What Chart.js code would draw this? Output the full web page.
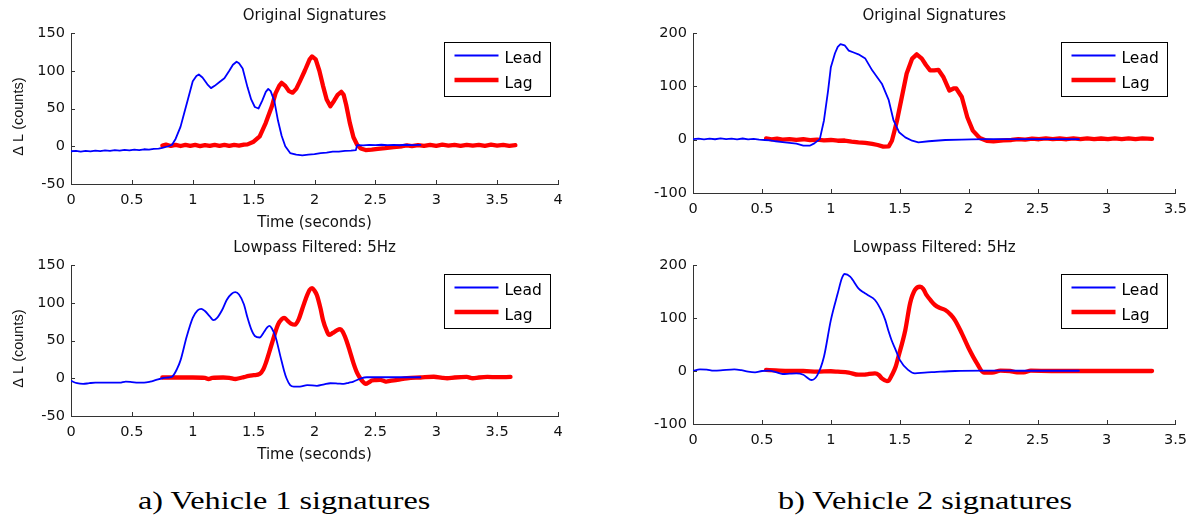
<!DOCTYPE html>
<html>
<head>
<meta charset="utf-8">
<title>Vehicle signatures</title>
<script src="https://cdn.jsdelivr.net/npm/chart.js@4.4.1/dist/chart.umd.min.js"></script>
<style>
  html, body { margin: 0; padding: 0; background: #fff; }
  body { width: 1195px; height: 517px; position: relative; overflow: hidden; }
  canvas { position: absolute; }
  .caption {
    position: absolute;
    font-family: "Liberation Serif", "Times New Roman", serif;
    font-size: 25px;
    line-height: 25px;
    color: #000;
    white-space: nowrap;
    transform: scaleX(1.29);
    transform-origin: 0 0;
  }
</style>
</head>
<body>
<canvas id="v1orig" width="600" height="240" style="left:0;top:0"></canvas>
<canvas id="v1filt" width="600" height="240" style="left:0;top:232px"></canvas>
<canvas id="v2orig" width="595" height="240" style="left:600px;top:0"></canvas>
<canvas id="v2filt" width="595" height="240" style="left:600px;top:232px"></canvas>
<div class="caption" style="left:138px;top:488px">a) Vehicle 1 signatures</div>
<div class="caption" style="left:778px;top:488px">b) Vehicle 2 signatures</div>
<script>
// Series names and axis ticks
const seriesNames = ['Lead', 'Lag'];
const v1XTicks = [0, 0.5, 1, 1.5, 2, 2.5, 3, 3.5, 4];
const v1YTicks = [-50, 0, 50, 100, 150];
const v2XTicks = [0, 0.5, 1, 1.5, 2, 2.5, 3, 3.5];
const v2YTicks = [-100, 0, 100, 200];

// Vehicle 1, raw loop signatures: [time (s), delta L (counts)]
const v1OrigLead = [
  [0,-6.6],[0.04,-6],[0.08,-7],[0.12,-6.2],[0.16,-6.8],[0.2,-5.8],[0.24,-6.5],[0.28,-5.6],[0.32,-6.2],
  [0.36,-5.2],[0.4,-5.8],[0.44,-4.8],[0.48,-5.4],[0.52,-4.4],[0.56,-5],[0.6,-4],[0.64,-4.6],[0.68,-3.4],
  [0.72,-3.2],[0.75,-2],[0.8,0],[0.83,2],[0.86,10],[0.9,26],[0.93,44],[0.96,62],[1.0,86],[1.03,93],
  [1.05,95],[1.08,91],[1.12,82],[1.15,77],[1.18,80],[1.22,85],[1.26,90],[1.3,100],[1.33,108],[1.36,112],
  [1.38,110],[1.41,103],[1.45,78],[1.48,62],[1.51,52],[1.54,50],[1.57,60],[1.6,72],[1.62,76],[1.64,73],
  [1.67,60],[1.7,34],[1.73,14],[1.76,0],[1.8,-9],[1.85,-11],[1.9,-12],[1.95,-11],[2.0,-10.5],[2.05,-9],
  [2.1,-8.5],[2.15,-7],[2.2,-7],[2.25,-6],[2.3,-5.8],[2.34,-5],[2.35,1.5],[2.4,1.2],[2.45,1.8],[2.5,1.4],
  [2.55,2],[2.6,1.4],[2.65,1.9],[2.7,1.3],[2.75,2],[2.8,1.5],[2.87,1.8]
];
const v1OrigLag = [
  [0.75,1],[0.78,2.2],[0.82,0.4],[0.86,1.8],[0.9,0.3],[0.94,1.9],[0.98,0.5],[1.02,1.7],[1.06,0.2],
  [1.1,1.6],[1.14,0.4],[1.18,1.9],[1.22,0.6],[1.26,1.8],[1.3,0.4],[1.34,1.7],[1.38,0.8],[1.42,2.2],
  [1.45,2.5],[1.5,6],[1.55,13],[1.6,31],[1.65,53],[1.68,70],[1.71,80],[1.73,84],[1.76,80],[1.79,73],
  [1.82,71],[1.85,76],[1.88,86],[1.92,100],[1.96,115],[1.98,119],[2.01,115],[2.04,100],[2.07,80],
  [2.1,62],[2.13,53],[2.16,60],[2.19,68],[2.22,72],[2.24,68],[2.26,55],[2.29,31],[2.32,12],[2.35,2],
  [2.38,-3],[2.42,-5],[2.47,-4.5],[2.52,-3.5],[2.58,-2.5],[2.65,-1],[2.72,0],[2.76,1.2],[2.8,0.2],
  [2.85,1.6],[2.9,0.4],[2.95,1.8],[3.0,0.6],[3.05,2],[3.1,0.8],[3.15,1.7],[3.2,0.5],[3.25,1.9],
  [3.3,0.7],[3.35,1.8],[3.4,0.6],[3.45,2],[3.5,0.8],[3.55,1.8],[3.6,0.6],[3.65,1.4]
];

// Vehicle 1, 5 Hz lowpass filtered
const v1FiltLead = [
  [0,-3.5],[0.05,-6.6],[0.1,-7.5],[0.15,-6.5],[0.2,-5.8],[0.3,-5.8],[0.4,-5.8],[0.45,-4.4],[0.5,-5],
  [0.55,-5.8],[0.6,-5.8],[0.65,-4.5],[0.7,-2.2],[0.75,0],[0.8,1],[0.83,2],[0.87,12],[0.9,24],[0.95,55],
  [1.0,80],[1.04,90],[1.07,92],[1.1,89],[1.14,82],[1.17,77],[1.2,80],[1.24,90],[1.28,104],[1.32,112],
  [1.35,114],[1.38,111],[1.42,98],[1.45,80],[1.48,65],[1.51,56],[1.55,54],[1.58,60],[1.61,67],[1.63,69.5],
  [1.65,66],[1.68,55],[1.72,29],[1.75,10],[1.77,0],[1.8,-9],[1.83,-11],[1.88,-11],[1.94,-9],[2.02,-10],
  [2.08,-8],[2.13,-6.6],[2.19,-7],[2.24,-7.5],[2.28,-6],[2.32,-4.4],[2.37,-1],[2.43,1.3],[2.6,1.3],[2.87,1.3]
];
const v1FiltLag = [
  [0.75,1],[0.9,1],[1.0,1],[1.1,0.5],[1.13,-1],[1.16,0.5],[1.25,1],[1.3,0.5],[1.35,-1],[1.38,0],
  [1.42,1.5],[1.46,3],[1.5,4],[1.55,5.7],[1.58,12],[1.6,20],[1.65,46],[1.7,71],[1.73,78],[1.75,80],
  [1.78,76],[1.81,72],[1.84,71],[1.87,78],[1.9,92],[1.93,106],[1.96,117],[1.98,119.5],[2.0,116],[2.02,110],
  [2.05,92],[2.07,77],[2.1,63],[2.12,57.5],[2.15,60],[2.18,63],[2.21,65],[2.23,62],[2.26,51],[2.29,36],
  [2.32,20],[2.35,7],[2.375,0],[2.4,-5],[2.42,-7.5],[2.45,-5],[2.47,-3],[2.5,-2.5],[2.54,-2.2],[2.57,-3.5],
  [2.59,-4.4],[2.62,-3.5],[2.68,-2.2],[2.76,0],[2.87,1],[2.98,2],[3.05,0.5],[3.09,0],[3.15,1],[3.25,1.7],
  [3.3,0],[3.35,1],[3.42,1.7],[3.5,1.5],[3.61,1.7]
];

// Vehicle 2, raw loop signatures
const v2OrigLead = [
  [0,1],[0.04,2],[0.08,0.5],[0.12,1.8],[0.16,0.8],[0.2,2.5],[0.24,1.2],[0.28,1.8],[0.32,0.6],[0.36,2.2],
  [0.4,0.5],[0.44,1.5],[0.48,0.2],[0.52,-0.6],[0.56,-1.5],[0.6,-3],[0.65,-4.5],[0.7,-6],[0.75,-7.5],
  [0.8,-11],[0.85,-11],[0.88,-7],[0.92,1],[0.95,36],[0.98,92],[1.0,136],[1.03,162],[1.05,174],[1.07,179],
  [1.1,177],[1.13,167],[1.17,163],[1.2,160],[1.25,152],[1.3,130],[1.37,105],[1.42,74],[1.455,36],
  [1.495,14],[1.54,4.4],[1.59,-2],[1.635,-5],[1.71,-3],[1.83,-0.6],[1.95,0],[2.02,0.6],[2.14,1],
  [2.3,1],[2.5,1.2],[2.8,1]
];
const v2OrigLag = [
  [0.53,2.5],[0.57,0.5],[0.61,1.8],[0.65,0.2],[0.7,1],[0.75,-0.4],[0.8,0.8],[0.85,-0.8],[0.9,0.2],
  [0.95,-1.2],[1.0,-0.6],[1.05,-2],[1.1,-1.6],[1.15,-3.5],[1.2,-5],[1.25,-6],[1.3,-8],[1.34,-10],
  [1.38,-13],[1.42,-12.5],[1.443,-2],[1.46,15],[1.48,36],[1.515,80],[1.55,124],[1.59,152],[1.623,160],
  [1.66,152],[1.69,140],[1.72,130],[1.75,130],[1.78,131],[1.815,118],[1.86,92],[1.89,96],[1.91,96],
  [1.95,80],[1.99,42],[2.03,17],[2.08,3],[2.13,-2],[2.18,-3],[2.25,-1.5],[2.31,-0.6],[2.36,1.2],
  [2.41,0],[2.46,1.8],[2.51,0.8],[2.56,2.4],[2.61,1],[2.66,2.2],[2.71,0.8],[2.76,2.4],[2.81,1.2],
  [2.86,2.6],[2.91,1],[2.96,2.2],[3.01,0.9],[3.06,2.4],[3.11,1.1],[3.16,2.3],[3.21,0.9],[3.26,2.4],
  [3.33,1.6]
];

// Vehicle 2, 5 Hz lowpass filtered
const v2FiltLead = [
  [0,0],[0.05,3],[0.1,2.5],[0.15,0.6],[0.2,1],[0.3,3],[0.35,1.5],[0.4,-1.3],[0.45,-2.5],[0.5,0],
  [0.55,0.6],[0.6,-2],[0.65,-5.7],[0.7,-5],[0.75,-4.4],[0.8,-7],[0.82,-10.7],[0.86,-17],[0.9,-8.8],
  [0.95,27],[1.0,96],[1.05,146.5],[1.08,175],[1.1,183],[1.14,178],[1.2,156],[1.24,148],[1.27,143],
  [1.32,134],[1.37,112],[1.395,96],[1.42,74],[1.44,58.5],[1.47,40],[1.5,21],[1.56,2],[1.61,-4.4],
  [1.68,-3],[1.75,-2],[1.9,0],[2.11,0.6],[2.4,0.5],[2.8,0.5]
];
const v2FiltLag = [
  [0.53,2],[0.6,1],[0.7,0],[0.8,0],[0.9,-1.3],[1.0,-0.5],[1.05,-1.3],[1.13,-3],[1.2,-7],[1.24,-7],
  [1.27,-5.7],[1.32,-4.4],[1.35,-8],[1.37,-14],[1.407,-19],[1.42,-18],[1.443,-7.5],[1.47,8],[1.49,27],
  [1.54,77],[1.575,128],[1.61,153],[1.647,159],[1.67,155],[1.695,143],[1.725,133],[1.755,124.5],
  [1.79,119],[1.83,115],[1.87,106],[1.9,96],[1.95,71],[2.0,43],[2.06,14.5],[2.11,-3],[2.17,-3],
  [2.23,0.6],[2.3,0],[2.35,-2.5],[2.4,-2.5],[2.45,0.6],[2.6,0],[3.33,0]
];

Chart.defaults.font.family = '"DejaVu Sans", "Liberation Sans", sans-serif';
Chart.defaults.color = '#111';

const toPoints = arr => arr.map(([x, y]) => ({ x, y }));

// MATLAB-style tick marks pointing into the plot area
const inwardTicks = {
  id: 'inwardTicks',
  afterDatasetsDraw(chart) {
    const { ctx, chartArea: a, scales: { x, y } } = chart;
    ctx.save();
    ctx.strokeStyle = '#333';
    ctx.lineWidth = 1;
    ctx.beginPath();
    x.ticks.forEach(t => {
      const px = Math.round(x.getPixelForValue(t.value)) + 0.5;
      ctx.moveTo(px, a.bottom);
      ctx.lineTo(px, a.bottom - 4);
    });
    y.ticks.forEach(t => {
      const py = Math.round(y.getPixelForValue(t.value)) + 0.5;
      ctx.moveTo(a.left, py);
      ctx.lineTo(a.left + 4, py);
    });
    ctx.stroke();
    ctx.restore();
  }
};

// Boxed legend in the upper right corner of the plot area
const boxedLegend = {
  id: 'boxedLegend',
  afterDraw(chart) {
    const { ctx, chartArea: a } = chart;
    const w = 106, h = 54;
    const left = Math.round(a.right - 8 - w) + 0.5;
    const top = Math.round(a.top + 8.5) + 0.5;
    ctx.save();
    ctx.fillStyle = '#fff';
    ctx.fillRect(left, top, w, h);
    ctx.strokeStyle = '#000';
    ctx.lineWidth = 1;
    ctx.strokeRect(left, top, w, h);
    chart.data.datasets.forEach((ds, i) => {
      const ly = top + 13 + i * 24.5;
      ctx.strokeStyle = ds.borderColor;
      ctx.lineWidth = ds.borderWidth;
      ctx.beginPath();
      ctx.moveTo(left + 10, ly);
      ctx.lineTo(left + 54, ly);
      ctx.stroke();
      ctx.fillStyle = '#000';
      ctx.font = '15.5px "DejaVu Sans", sans-serif';
      ctx.textBaseline = 'middle';
      ctx.textAlign = 'left';
      ctx.fillText(ds.label, left + 60, ly + 3.5);
    });
    ctx.restore();
  }
};

// Plain number labels: 0, 0.5, 1, 1.5 ...
const plainNumber = value => String(value);

function makePanel(id, cfg) {
  const lineStyle = cfg.smooth ? { cubicInterpolationMode: 'monotone' } : { tension: 0 };
  return new Chart(document.getElementById(id), {
    type: 'line',
    data: {
      datasets: [
        { label: seriesNames[0], data: toPoints(cfg.lead), borderColor: '#0000ff', borderWidth: 1.8,
          pointRadius: 0, fill: false, borderJoinStyle: 'round', borderCapStyle: 'round', ...lineStyle },
        { label: seriesNames[1], data: toPoints(cfg.lag), borderColor: '#ff0000', borderWidth: 4.3,
          pointRadius: 0, fill: false, borderJoinStyle: 'round', borderCapStyle: 'round', ...lineStyle }
      ]
    },
    options: {
      responsive: false,
      animation: false,
      events: [],
      layout: { padding: { left: 0, right: cfg.rightPad, top: 0, bottom: 0 } },
      plugins: {
        legend: { display: false },
        tooltip: { enabled: false },
        title: {
          display: true,
          text: cfg.title,
          fullSize: false,
          color: '#111',
          font: { size: 15, weight: 'normal' },
          padding: { top: 7.5, bottom: 7.5 }
        }
      },
      scales: {
        x: {
          type: 'linear',
          min: cfg.xTicks[0],
          max: cfg.xTicks[cfg.xTicks.length - 1],
          afterBuildTicks: s => { s.ticks = cfg.xTicks.map(v => ({ value: v })); },
          afterFit: s => { s.height = cfg.xHeight; },
          grid: { display: false, drawTicks: false },
          border: { display: true, color: '#333', width: 1 },
          ticks: { autoSkip: false, maxRotation: 0, minRotation: 0, padding: 8, font: { size: 14.5 },
                   color: '#111', callback: plainNumber },
          title: {
            display: !!cfg.xTitle,
            text: cfg.xTitle || '',
            color: '#111',
            font: { size: 15 },
            padding: { top: 0, bottom: 8 }
          }
        },
        y: {
          type: 'linear',
          min: cfg.yTicks[0],
          max: cfg.yTicks[cfg.yTicks.length - 1],
          afterBuildTicks: s => { s.ticks = cfg.yTicks.map(v => ({ value: v })); },
          afterFit: s => { s.width = cfg.yWidth; },
          grid: { display: false, drawTicks: false },
          border: { display: true, color: '#333', width: 1 },
          ticks: { autoSkip: false, padding: 6, font: { size: 14.5 }, color: '#111', callback: plainNumber },
          title: {
            display: !!cfg.yTitle,
            // trailing spaces nudge the centred label toward the lower end of the axis
            text: cfg.yTitle ? cfg.yTitle + '    ' : '',
            color: '#111',
            font: { size: 14.5, family: '"Liberation Sans", Arial, sans-serif' },
            padding: { top: 10.5, bottom: 0 }
          }
        }
      }
    },
    plugins: [inwardTicks, boxedLegend]
  });
}

const xTitle = 'Time (seconds)';
const yTitle = '\u0394 L (counts)';

makePanel('v1orig', { lead: v1OrigLead, lag: v1OrigLag, xTicks: v1XTicks, yTicks: v1YTicks,
  title: 'Original Signatures', yWidth: 71, xHeight: 56, rightPad: 42, xTitle, yTitle, smooth: false });
makePanel('v1filt', { lead: v1FiltLead, lag: v1FiltLag, xTicks: v1XTicks, yTicks: v1YTicks,
  title: 'Lowpass Filtered: 5Hz', yWidth: 71, xHeight: 56, rightPad: 42, xTitle, yTitle, smooth: true });
makePanel('v2orig', { lead: v2OrigLead, lag: v2OrigLag, xTicks: v2XTicks, yTicks: v2YTicks,
  title: 'Original Signatures', yWidth: 93, xHeight: 47, rightPad: 16, smooth: false });
makePanel('v2filt', { lead: v2FiltLead, lag: v2FiltLag, xTicks: v2XTicks, yTicks: v2YTicks,
  title: 'Lowpass Filtered: 5Hz', yWidth: 93, xHeight: 48, rightPad: 16, smooth: true });
</script>
</body>
</html>
